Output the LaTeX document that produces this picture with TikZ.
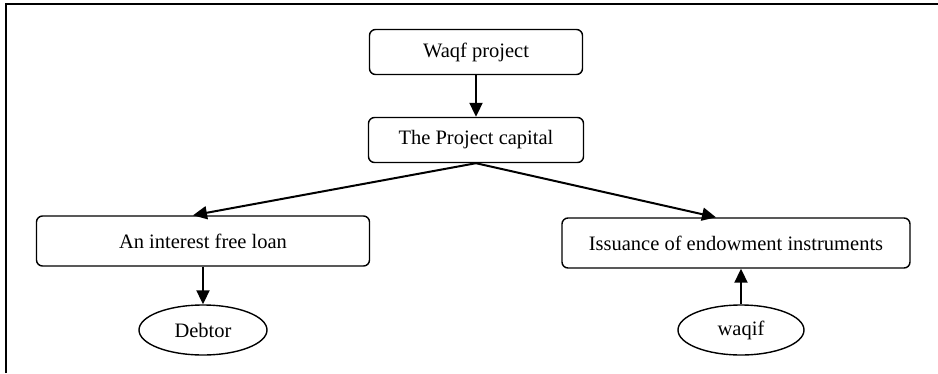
\documentclass[tikz,border=0pt]{standalone}
\usepackage{fontspec}
\setmainfont{Liberation Serif}
\usetikzlibrary{shapes.geometric,arrows.meta}
\begin{document}
\begin{tikzpicture}[x=1pt,y=-1pt,
  box/.style={draw,line width=1.4pt,rounded corners=6pt,inner sep=0pt,font=\fontsize{20.5}{24}\selectfont},
  oval/.style={draw,ellipse,line width=1.4pt,inner sep=0pt,font=\fontsize{20.5}{24}\selectfont},
  arr/.style={line width=2pt,-{Triangle[length=14pt,width=13pt]}}]
\useasboundingbox (0,0) rectangle (938,373);
\fill[white] (0,0) rectangle (938,373);
\draw[line width=2pt] (6,373) -- (6,4) -- (938,4);
\node[box,minimum width=213pt,minimum height=45pt] (wp) at (476,52) {Waqf project};
\node[box,minimum width=215pt,minimum height=45pt] (pc) at (476,140) {The Project capital};
\node[box,minimum width=333pt,minimum height=50pt] (loan) at (203,241) {An interest free loan};
\node[box,minimum width=348pt,minimum height=50pt] (iss) at (736,243) {Issuance of endowment instruments};
\node[oval,minimum width=128pt,minimum height=50pt] (deb) at (203,330) {Debtor};
\node[oval,minimum width=126pt,minimum height=50pt] (wq) at (741,330) {waqif};
\draw[arr] (wp) -- (pc);
\draw[arr] (pc.south) -- (loan.north -| 193,0);
\draw[arr] (pc.south) -- (iss.north -| 716,0);
\draw[arr] (loan.south) -- (deb.north);
\draw[arr] (wq.north) -- (iss.south -| wq.north);
\end{tikzpicture}
\end{document}
